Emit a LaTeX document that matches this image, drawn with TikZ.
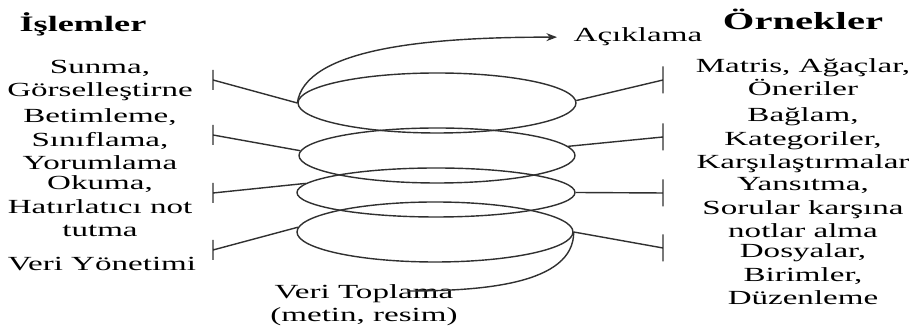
\documentclass[tikz,border=0pt]{standalone}
\usepackage{fontspec}
\setmainfont{Liberation Serif}[FakeStretch=1.65]
\usetikzlibrary{arrows.meta,shapes.geometric}
\definecolor{coilgray}{HTML}{303030}

\begin{document}
\begin{tikzpicture}[>={Stealth[length=6pt,width=4.5pt]},line width=0.8pt,
  ring/.style={draw=coilgray,ellipse,inner sep=0pt},
  lbl/.style={align=center,anchor=base,inner sep=0pt,font=\fontsize{11.4}{13.4}\selectfont},
  head/.style={anchor=base,inner sep=0pt,font=\fontsize{12.5}{15}\selectfont\bfseries}]
% Data analysis spiral: four rings, operations on the left, examples on the right.
% (base of a multi-line label = baseline of its last line)
\useasboundingbox (0,0) rectangle (18.26,6.62);
\node[ring,minimum width=5.56cm,minimum height=1.20cm] (e1) at (8.74,4.56) {};
\node[ring,minimum width=5.52cm,minimum height=1.10cm] (e2) at (8.74,3.51) {};
\node[ring,minimum width=5.56cm,minimum height=0.98cm] (e3) at (8.72,2.77) {};
\node[ring,minimum width=5.52cm,minimum height=1.20cm] (e4) at (8.70,1.98) {};
\node[head] (islem) at (1.66,5.98) {İşlemler};
\node[head,font=\fontsize{14}{15}\selectfont\bfseries] (ornek) at (16.06,6.02) {Örnekler};
\node[lbl] (sunma) at (2.00,4.68) {Sunma,\\Görselleştirne};
\node[lbl] (betim) at (2.00,3.22) {Betimleme,\\Sınıflama,\\Yorumlama};
\node[lbl] (okuma) at (2.00,1.88) {Okuma,\\Hatırlatıcı not\\tutma};
\node[lbl] (yonet) at (2.04,1.20) {Veri Yönetimi};
\node[lbl] (matris) at (16.06,4.70) {Matris, Ağaçlar,\\Öneriler};
\node[lbl] (baglam) at (16.06,3.24) {Bağlam,\\Kategoriler,\\Karşılaştırmalar};
\node[lbl] (yansit) at (16.06,1.86) {Yansıtma,\\Sorular karşına\\notlar alma};
\node[lbl] (dosya) at (16.06,0.52) {Dosyalar,\\Birimler,\\Düzenleme};
\node[lbl,anchor=base west] (acik) at (11.46,5.78) {Açıklama};
\node[lbl] (veri) at (7.28,0.18) {Veri Toplama\\(metin, resim)};
\coordinate (a1) at (4.26,5.02);
\coordinate (a2) at (4.26,3.92);
\coordinate (a3) at (4.26,2.76);
\coordinate (a4) at (4.26,1.62);
\coordinate (b1) at (13.26,5.02);
\coordinate (b2) at (13.26,3.88);
\coordinate (b3) at (13.26,2.76);
\coordinate (b4) at (13.26,1.66);
\coordinate (tail) at (8.14,0.80);
\draw[coilgray] (e1.west) -- (a1) ++(0,0.2) -- ++(0,-0.4);
\draw[coilgray] (e2.178) -- (a2) ++(0,0.2) -- ++(0,-0.4);
\draw[coilgray] (e3.176) -- (a3) ++(0,0.2) -- ++(0,-0.4);
\draw[coilgray] (e4.178) -- (a4) ++(0,0.2) -- ++(0,-0.4);
\draw[coilgray] (e1.1) -- (b1) ++(0,0.27) -- ++(0,-0.54);
\draw[coilgray] (e2.4) -- (b2) ++(0,0.27) -- ++(0,-0.54);
\draw[coilgray] (e3.east) -- (b3) ++(0,0.27) -- ++(0,-0.54);
\draw[coilgray] (e4.east) -- (b4) ++(0,0.27) -- ++(0,-0.54);
\draw[->,coilgray,shorten >=0.32cm] (e1.west) .. controls (6.10,5.62) and (8.40,5.88) .. (acik.west);
\draw[coilgray] (e4.east) .. controls (11.48,0.92) and (9.60,0.80) .. (tail);
\end{tikzpicture}
\end{document}
